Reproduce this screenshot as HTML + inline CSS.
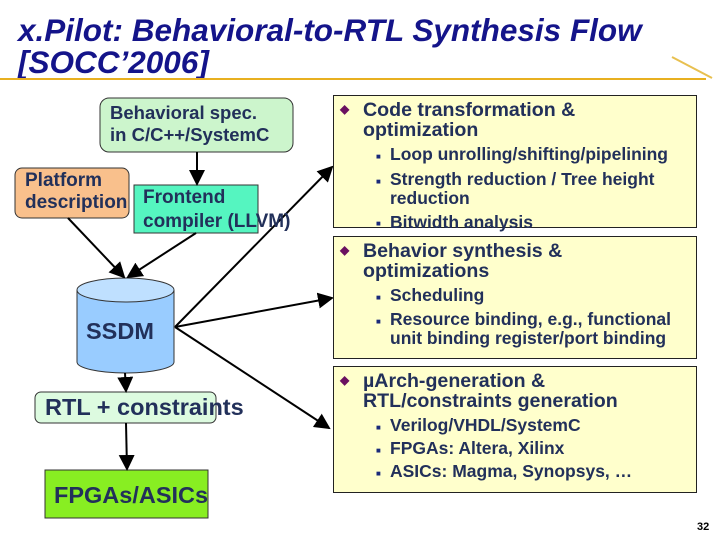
<!DOCTYPE html>
<html><head><style>
body{margin:0;width:720px;height:540px;background:#fff;position:relative;overflow:hidden;font-family:"Liberation Sans",sans-serif;font-weight:bold;color:#22305a}
.a{position:absolute;white-space:nowrap}
.t{color:#14148a;font-style:italic;font-size:31.5px;line-height:32px;left:18px;top:14px}
.box{position:absolute;left:333px;width:364px;background:#ffffcc;border:1px solid #222;box-sizing:border-box}
.l1{position:absolute;left:30px;font-size:19.6px;line-height:20px;white-space:nowrap}
.l2{position:absolute;left:57px;font-size:17.5px;line-height:19px;white-space:nowrap}
.d{position:absolute;left:7px;color:#6a1060;font-size:12px}
.s{position:absolute;left:43px;color:#1a2a7a;font-size:8px}
</style></head><body>
<div class="a t">x.Pilot: Behavioral-to-RTL Synthesis Flow<br>[SOCC’2006]</div>
<svg class="a" style="left:0;top:0" width="720" height="540">
<defs><marker id="m" markerWidth="8" markerHeight="8" refX="7" refY="4" orient="auto"><path d="M0,0 L8,4 L0,8z" fill="#000"/></marker></defs>
<line x1="0" y1="79" x2="706" y2="79" stroke="#e8b020" stroke-width="2"/>
<line x1="672" y1="57" x2="712" y2="78" stroke="#e8c050" stroke-width="2"/>
<rect x="100" y="98" width="193" height="54" rx="9" fill="#ccf5cc" stroke="#333"/>
<rect x="15" y="168" width="114" height="50" rx="7" fill="#f9c08c" stroke="#333"/>
<rect x="134" y="185" width="124" height="48" fill="#55f5c0" stroke="#333"/>
<path d="M77,290 L77,362 A48.5,11 0 0 0 174,362 L174,290" fill="#99ccff" stroke="#333"/>
<ellipse cx="125.5" cy="290" rx="48.5" ry="12" fill="#bfe0ff" stroke="#333"/>
<rect x="35" y="392" width="181" height="31" rx="6" fill="#ddfbe0" stroke="#333"/>
<rect x="45" y="470" width="163" height="48" fill="#88ee22" stroke="#333"/>
<g stroke="#000" stroke-width="2" marker-end="url(#m)">
<line x1="197" y1="152" x2="197" y2="184"/>
<line x1="68" y1="218" x2="124" y2="277"/>
<line x1="196" y1="233" x2="128" y2="277"/>
<line x1="175" y1="327" x2="332" y2="167"/>
<line x1="175" y1="327" x2="332" y2="298"/>
<line x1="175" y1="327" x2="329" y2="428"/>
<line x1="125" y1="373" x2="126" y2="391"/>
<line x1="126" y1="423" x2="127" y2="469"/>
</g>
</svg>
<div class="a" style="left:110px;top:102px;font-size:18.5px;line-height:22px">Behavioral spec.<br>in C/C++/SystemC</div>
<div class="a" style="left:25px;top:170px;font-size:19px;line-height:22px">Platform<br>description</div>
<div class="a" style="left:143px;top:186px;font-size:19px;line-height:24px">Frontend<br>compiler (LLVM)</div>
<div class="a" style="left:86px;top:318px;font-size:23.5px">SSDM</div>
<div class="a" style="left:45px;top:394px;font-size:23.5px">RTL + constraints</div>
<div class="a" style="left:54px;top:482px;font-size:23.5px">FPGAs/ASICs</div>

<div class="box" style="top:95px;height:133px"></div>
<div class="box" style="top:236px;height:123px"></div>
<div class="box" style="top:366px;height:127px"></div>

<div class="a" style="left:333px;top:97px;width:364px">
<span class="d" style="top:5px">◆</span><div class="l1" style="top:3px">Code transformation &amp;<br>optimization</div>
<span class="s" style="top:55px">■</span><div class="l2" style="top:48px">Loop unrolling/shifting/pipelining</div>
<span class="s" style="top:80px">■</span><div class="l2" style="top:73px">Strength reduction / Tree height<br>reduction</div>
<span class="s" style="top:122px">■</span><div class="l2" style="top:116px">Bitwidth analysis</div>
</div>
<div class="a" style="left:333px;top:238px;width:364px">
<span class="d" style="top:5px">◆</span><div class="l1" style="top:3px">Behavior synthesis &amp;<br>optimizations</div>
<span class="s" style="top:55px">■</span><div class="l2" style="top:48px">Scheduling</div>
<span class="s" style="top:79px">■</span><div class="l2" style="top:72px">Resource binding, e.g., functional<br>unit binding register/port binding</div>
</div>
<div class="a" style="left:333px;top:368px;width:364px">
<span class="d" style="top:5px">◆</span><div class="l1" style="top:3px">µArch-generation &amp;<br>RTL/constraints generation</div>
<span class="s" style="top:55px">■</span><div class="l2" style="top:48px">Verilog/VHDL/SystemC</div>
<span class="s" style="top:78px">■</span><div class="l2" style="top:71px">FPGAs: Altera, Xilinx</div>
<span class="s" style="top:101px">■</span><div class="l2" style="top:94px">ASICs: Magma, Synopsys, …</div>
</div>
<div class="a" style="left:697px;top:521px;font-size:11px;color:#000">32</div>
</body></html>
